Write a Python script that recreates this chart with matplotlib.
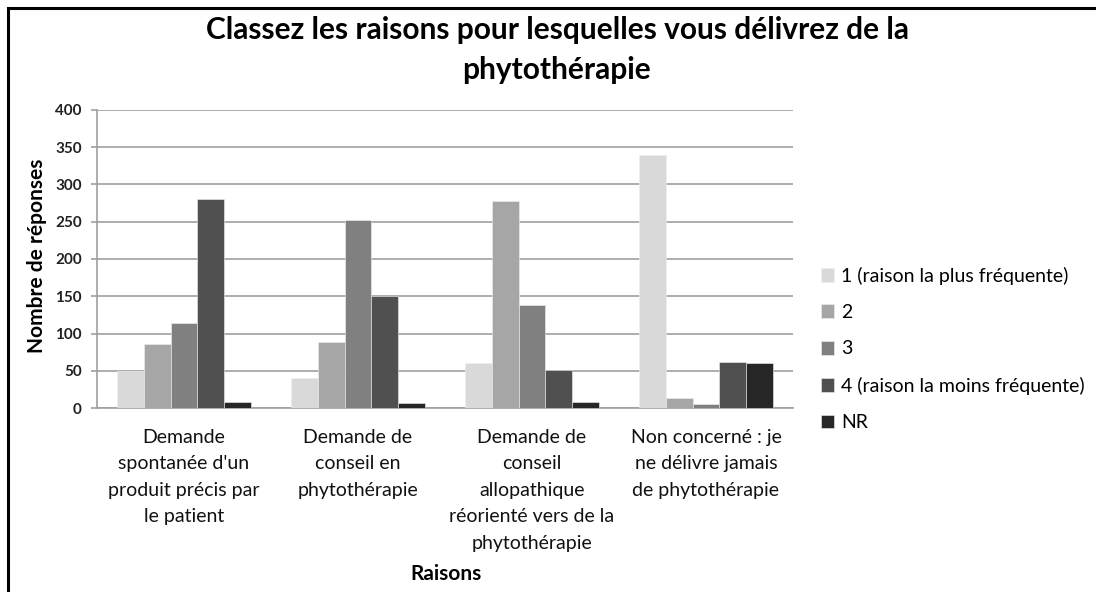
import matplotlib
matplotlib.use("Agg")
import matplotlib.pyplot as plt
from matplotlib.patches import Rectangle
import numpy as np

categories = [
    "Demande\nspontanée d'un\nproduit précis par\nle patient",
    "Demande de\nconseil en\nphytothérapie",
    "Demande de\nconseil\nallopathique\nréorienté vers de la\nphytothérapie",
    "Non concerné : je\nne délivre jamais\nde phytothérapie",
]
series_names = ["1 (raison la plus fréquente)", "2", "3",
                "4 (raison la moins fréquente)", "NR"]
rank1 = [50, 40, 61, 339]
rank2 = [86, 89, 278, 13]
rank3 = [114, 253, 138, 6]
rank4 = [281, 150, 51, 62]
no_answer = [8, 7, 8, 61]
series_values = [rank1, rank2, rank3, rank4, no_answer]
colors = ["#d9d9d9", "#a6a6a6", "#808080", "#505050", "#262626"]
yticks = [0, 50, 100, 150, 200, 250, 300, 350, 400]

W, H = 1096, 592
fig = plt.figure(figsize=(W / 100, H / 100), dpi=100)
fig.patch.set_facecolor("white")
font = ["Lato", "DejaVu Sans"]

# outer frame
fig.patches.append(Rectangle((8 / W, -0.1), 1.2, (H - 8) / H + 0.1,
                             transform=fig.transFigure, fill=False,
                             edgecolor="black", linewidth=2.2, zorder=0))

ax = fig.add_axes([97 / W, (H - 408) / H, 696 / W, 298 / H])
x = np.arange(len(categories))
n = len(series_values)
group_w = 0.77
bw = group_w / n
for i, (vals, name, c) in enumerate(zip(series_values, series_names, colors)):
    ax.bar(x - group_w / 2 + bw * (i + 0.5), vals, width=bw, color=c,
           edgecolor="#f0f0f0", linewidth=0.4, label=name, zorder=3)

ax.set_xlim(-0.5, len(categories) - 0.5)
ax.set_ylim(0, 400)
ax.set_yticks(yticks)
ax.set_yticklabels([str(v) for v in yticks], fontsize=11, fontweight="bold",
                   family=font, color="#222222")
ax.yaxis.grid(True, color="#a0a0a0", linewidth=1.2, zorder=0)
ax.set_axisbelow(True)
for s in ["top", "right"]:
    ax.spines[s].set_visible(False)
for s in ["left", "bottom"]:
    ax.spines[s].set_color("#a0a0a0")
    ax.spines[s].set_linewidth(1.2)
ax.tick_params(axis="y", length=4, width=1.2, color="#a0a0a0", pad=7)
ax.tick_params(axis="x", length=0, pad=15)
ax.set_xticks(x)
ax.set_xticklabels(categories, fontsize=14, family=font, linespacing=1.68,
                   va="top", color="#111111")

fig.text(446 / W, 1 - 574 / H, "Raisons", ha="center",
         va="center", fontsize=15, fontweight="bold", family=font)
fig.text(37 / W, 1 - 256 / H, "Nombre de réponses", ha="center", va="center",
         rotation=90, fontsize=15, fontweight="bold", family=font)
fig.text(557 / W, 1 - 50 / H,
         "Classez les raisons pour lesquelles vous délivrez de la\nphytothérapie",
         ha="center", va="center", fontsize=21.5, fontweight="bold",
         family=font, linespacing=1.52)

leg = ax.legend(loc="center left", bbox_to_anchor=(803 / W, 1 - 349 / H),
                bbox_transform=fig.transFigure, frameon=False,
                prop={"family": font, "size": 14}, handlelength=0.7,
                handleheight=0.7, handletextpad=0.35, labelspacing=1.0)

fig.savefig("out.png", dpi=100)
